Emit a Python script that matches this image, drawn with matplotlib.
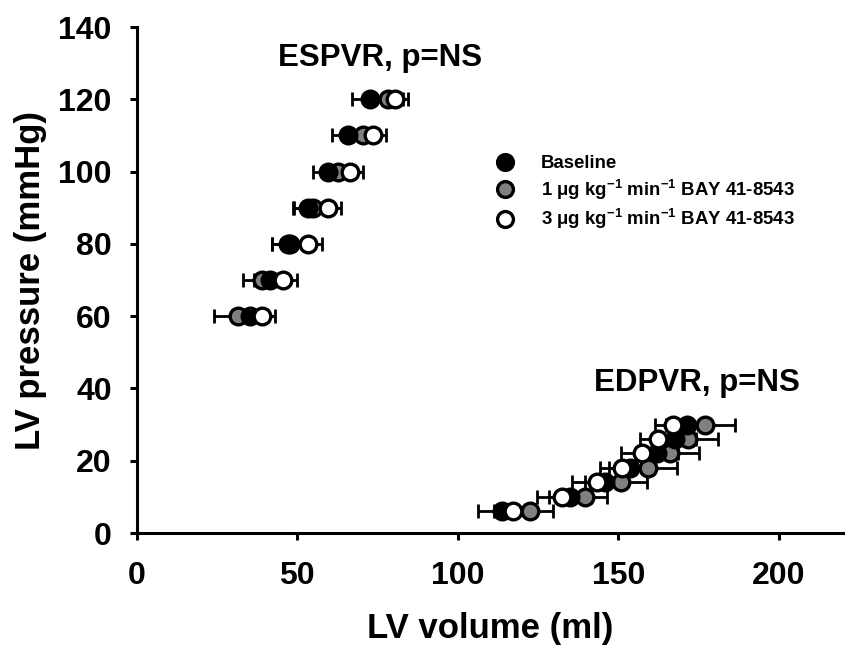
import matplotlib
matplotlib.use('Agg')
import matplotlib.pyplot as plt

plt.rcParams['font.family'] = ['Liberation Sans', 'DejaVu Sans']
plt.rcParams['font.weight'] = 'bold'
plt.rcParams['mathtext.fontset'] = 'custom'
plt.rcParams['mathtext.rm'] = 'Liberation Sans:bold'
plt.rcParams['mathtext.it'] = 'Liberation Sans:bold'
plt.rcParams['mathtext.default'] = 'rm'

# end-systolic points (pressure steps, volumes, SEM)
es_p = [60, 70, 80, 90, 100, 110, 120]
es_base = [35.3, 41.5, 47.8, 53.4, 59.6, 65.8, 72.7]
es_base_err = [5.5, 5.0, 5.6, 4.8, 4.8, 5.1, 5.7]
es_low = [31.6, 38.9, 47.1, 54.9, 62.7, 70.5, 78.3]
es_low_err = [7.5, 5.9, 5.0, 6.0, 4.5, 4.5, 4.5]
es_high = [39.0, 45.6, 53.4, 59.6, 66.4, 73.6, 80.4]
es_high_err = [4.1, 4.3, 4.3, 4.0, 4.0, 4.0, 4.1]

# end-diastolic points
ed_p = [6, 10, 14, 18, 22, 26, 30]
ed_base = [113.7, 135.0, 146.0, 153.7, 162.0, 167.7, 171.3]
ed_base_err = [7.3, 6.5, 6.5, 6.5, 6.5, 6.5, 6.5]
ed_low = [122.5, 139.7, 150.8, 159.4, 166.1, 171.8, 177.0]
ed_low_err = [7.3, 6.7, 8.1, 8.8, 8.9, 9.4, 9.4]
ed_high = [117.3, 132.4, 143.5, 151.1, 157.3, 162.5, 167.2]
ed_high_err = [6.0, 7.8, 8.0, 6.8, 6.3, 5.7, 5.7]

labels = ['Baseline',
          '1 \u03bcg kg$^{-1}$ min$^{-1}$ BAY 41-8543',
          '3 \u03bcg kg$^{-1}$ min$^{-1}$ BAY 41-8543']
colors = ['black', 'grey', 'white']

fig = plt.figure(figsize=(8.58, 6.46), dpi=100)
ax = fig.add_axes([0.1593, 0.1749, 0.8232, 0.7833])

groups = [
    (es_base, es_base_err, ed_base, ed_base_err),
    (es_low, es_low_err, ed_low, ed_low_err),
    (es_high, es_high_err, ed_high, ed_high_err),
]
zorders = [4, 3, 5]
handles = []
for (es, es_e, ed, ed_e), col, lab, z in zip(groups, colors, labels, zorders):
    for x, xe, y in [(es, es_e, es_p), (ed, ed_e, ed_p)]:
        ax.errorbar(x, y, xerr=xe, fmt='none', ecolor='black', elinewidth=2,
                    capsize=5, capthick=2, zorder=2)
        h, = ax.plot(x, y, 'o', ms=12, mfc=col, mec='black', mew=2.4,
                     linestyle='none', zorder=z, label=lab)
    handles.append(h)

ax.set_xlim(0, 220)
ax.set_ylim(0, 140)
ax.set_xticks([0, 50, 100, 150, 200])
ax.set_yticks(range(0, 141, 20))
ax.spines['top'].set_visible(False)
ax.spines['right'].set_visible(False)
for s in ['left', 'bottom']:
    ax.spines[s].set_linewidth(2.2)
ax.tick_params(direction='out', length=5, width=2.2, labelsize=23)
ax.tick_params(axis='y', pad=13)
ax.tick_params(axis='x', pad=15)
for t in ax.get_xticklabels() + ax.get_yticklabels():
    t.set_fontweight('bold')

ax.set_xlabel('LV volume (ml)', fontsize=25, fontweight='bold', labelpad=15)
ax.set_ylabel('LV pressure (mmHg)', fontsize=25, fontweight='bold', labelpad=8)

ax.text(75.8, 131.4, 'ESPVR, p=NS', fontsize=22.5, fontweight='bold',
        ha='center', va='center')
ax.text(174.6, 41.5, 'EDPVR, p=NS', fontsize=22.5, fontweight='bold',
        ha='center', va='center')

leg = ax.legend(handles=handles, loc='upper left', bbox_to_anchor=(0.472, 0.78),
                frameon=False, fontsize=13.4, handletextpad=0.9,
                labelspacing=0.3, markerscale=0.95)
for t in leg.get_texts():
    t.set_fontweight('bold')

fig.savefig('out.png', dpi=100)
